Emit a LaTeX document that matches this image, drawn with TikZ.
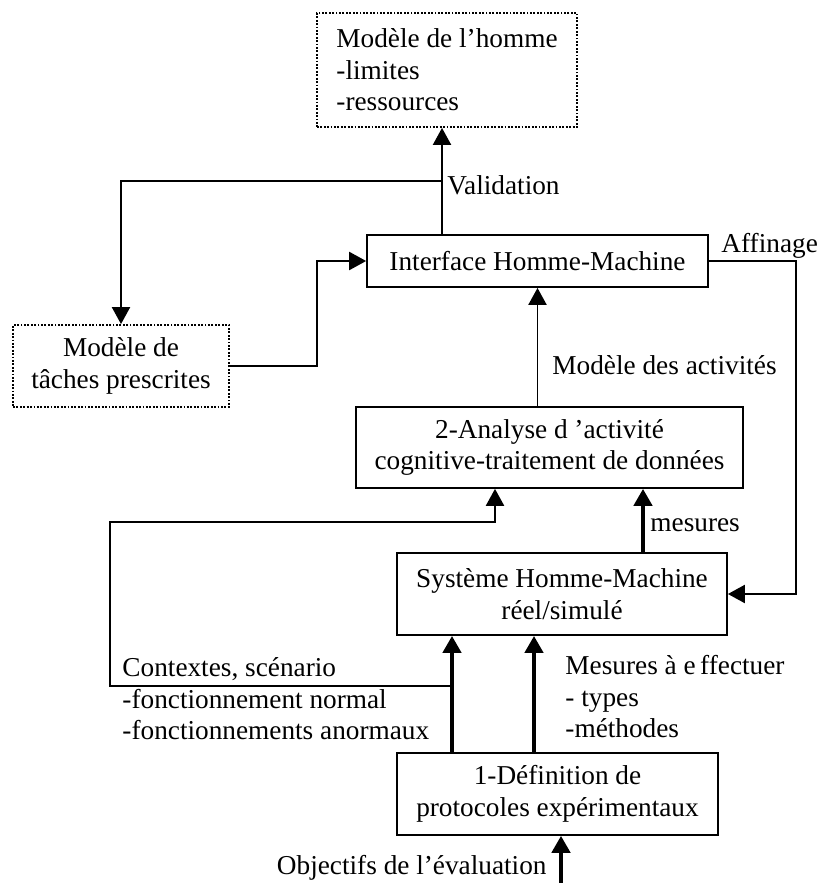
\documentclass[tikz,border=0pt]{standalone}
\usepackage{fontspec}
\setmainfont{Liberation Serif}
\usetikzlibrary{arrows.meta}
\tikzset{
  boite/.style={draw,line width=0.8pt,align=center,inner sep=0pt},
  boitepoint/.style={boite,dash pattern=on 0.8pt off 0.7pt},
  fleche/.style={line width=0.8pt,-{Triangle[length=7.5pt,width=8pt]}},
  flechegrasse/.style={line width=1.8pt,-{Triangle[length=7.5pt,width=8pt]}},
  etiquette/.style={align=left,inner sep=0pt}
}
\begin{document}
\begin{tikzpicture}[x=0.44pt,y=-0.44pt,font=\fontsize{12}{13.9}\selectfont]
  \useasboundingbox (0,0) rectangle (817,883);
  % boites
  \node[boitepoint,align=left,minimum width=114.4pt,minimum height=50.2pt] (homme) at (447,70) {Modèle de l’homme\\-limites\\-ressources};
  \node[boite,minimum width=150pt,minimum height=22.9pt] (ihm) at (537.5,261) {Interface Homme-Machine};
  \node[boitepoint,minimum width=95pt,minimum height=36.1pt] (taches) at (121,366) {Modèle de\\tâches prescrites};
  \node[boite,minimum width=170.3pt,minimum height=35.6pt] (analyse) at (549.5,447.5) {2-Analyse d ’activité\\cognitive-traitement de données};
  \node[boite,minimum width=145.2pt,minimum height=36.1pt] (systeme) at (562,594) {Système Homme-Machine\\réel/simulé};
  \node[boite,minimum width=141.2pt,minimum height=36pt] (definition) at (557.5,794) {1-Définition de\\protocoles expérimentaux};
  % etiquettes
  \node[etiquette,anchor=west] (lvalid) at (447,185) {Validation};
  \node[etiquette,anchor=base west] (laffin) at (721,252) {Affinage};
  \node[etiquette,anchor=west] (lactiv) at (552,365) {Modèle des activités};
  \node[etiquette,anchor=west] (lmes) at (650,525) {mesures};
  \node[etiquette,anchor=north west] (lctx) at (122,657) {Contextes, scénario\\-fonctionnement normal\\-fonctionnements anormaux};
  \node[etiquette,anchor=north west] (lmeff) at (565,655) {Mesures à e\,ffectuer\\- types\\-méthodes};
  \node[etiquette,anchor=base east] (lobj) at (547,874) {Objectifs de l’évaluation};
  % points de passage
  \coordinate (xh) at (442,0);
  \coordinate (valid) at (442,181);
  \coordinate (xm) at (643,0);
  \coordinate (xc) at (452,0);
  \coordinate (xd) at (534,0);
  \coordinate (xa) at (495,0);
  \coordinate (ctx) at (452,686);
  \coordinate (obj) at (561,883);
  % liaisons
  \draw[fleche] (ihm.north -| xh) -- (homme.south -| xh);
  \draw[fleche] (valid) -| (taches.north);
  \draw[fleche] (taches.east) -- ++(87,0) |- (ihm.west);
  \draw[fleche] (ihm.east) -- ++(87,0) |- (systeme.east);
  \draw[fleche] (analyse.north -| ihm.south) -- (ihm.south);
  \draw[flechegrasse] (systeme.north -| xm) -- (analyse.south -| xm);
  \draw[fleche] (ctx) -| (110,522) -| (analyse.south -| xa);
  \foreach \c in {xc,xd}
    \draw[flechegrasse] (definition.north -| \c) -- (systeme.south -| \c);
  \draw[flechegrasse] (obj) -- (definition.south -| obj);
\end{tikzpicture}
\end{document}
